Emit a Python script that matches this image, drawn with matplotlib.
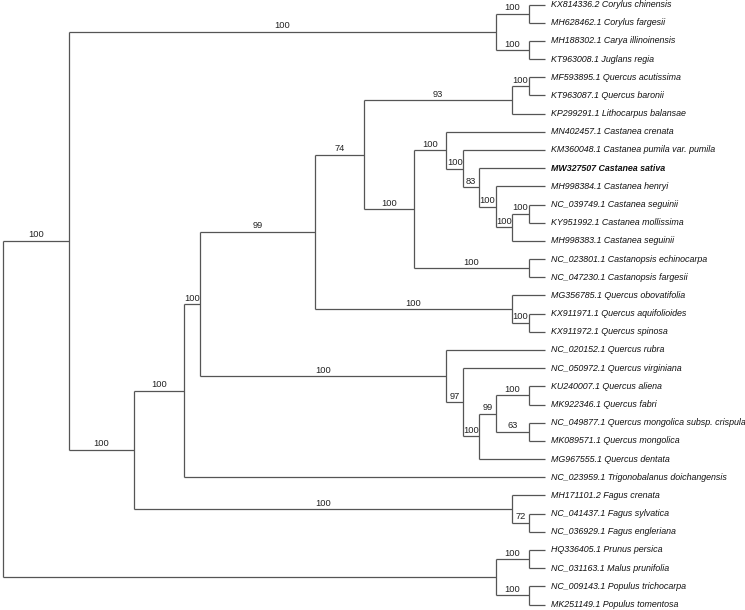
import matplotlib.pyplot as plt

# tip order top to bottom: accession + species name
accessions = ["KX814336.2", "MH628462.1", "MH188302.1", "KT963008.1",
              "MF593895.1", "KT963087.1", "KP299291.1", "MN402457.1",
              "KM360048.1", "MW327507", "MH998384.1", "NC_039749.1",
              "KY951992.1", "MH998383.1", "NC_023801.1", "NC_047230.1",
              "MG356785.1", "KX911971.1", "KX911972.1", "NC_020152.1",
              "NC_050972.1", "KU240007.1", "MK922346.1", "NC_049877.1",
              "MK089571.1", "MG967555.1", "NC_023959.1", "MH171101.2",
              "NC_041437.1", "NC_036929.1", "HQ336405.1", "NC_031163.1",
              "NC_009143.1", "MK251149.1"]
species = ["Corylus chinensis", "Corylus fargesii", "Carya illinoinensis",
           "Juglans regia", "Quercus acutissima", "Quercus baronii",
           "Lithocarpus balansae", "Castanea crenata",
           "Castanea pumila var. pumila", "Castanea sativa", "Castanea henryi",
           "Castanea seguinii", "Castanea mollissima", "Castanea seguinii",
           "Castanopsis echinocarpa", "Castanopsis fargesii",
           "Quercus obovatifolia", "Quercus aquifolioides", "Quercus spinosa",
           "Quercus rubra", "Quercus virginiana", "Quercus aliena",
           "Quercus fabri", "Quercus mongolica subsp. crispula",
           "Quercus mongolica", "Quercus dentata",
           "Trigonobalanus doichangensis", "Fagus crenata", "Fagus sylvatica",
           "Fagus engleriana", "Prunus persica", "Malus prunifolia",
           "Populus trichocarpa", "Populus tomentosa"]
highlight = "MW327507"

# internal nodes: name, children, level (steps back from the tips), bootstrap
nodes = [
    ("cor", ["KX814336.2", "MH628462.1"], 1, 100),
    ("jug", ["MH188302.1", "KT963008.1"], 1, 100),
    ("J", ["cor", "jug"], 3, 100),
    ("qac", ["MF593895.1", "KT963087.1"], 1, 100),
    ("F5", ["qac", "KP299291.1"], 2, 93),
    ("C6", ["NC_039749.1", "KY951992.1"], 1, 100),
    ("C5", ["C6", "MH998383.1"], 2, 100),
    ("C4", ["MH998384.1", "C5"], 3, 100),
    ("C3", ["MW327507", "C4"], 4, 83),
    ("C2", ["KM360048.1", "C3"], 5, 100),
    ("C1", ["MN402457.1", "C2"], 6, 100),
    ("cps", ["NC_023801.1", "NC_047230.1"], 1, 100),
    ("F6", ["C1", "cps"], 8, 100),
    ("F4", ["F5", "F6"], 11, 74),
    ("qaq", ["KX911971.1", "KX911972.1"], 1, 100),
    ("Qo", ["MG356785.1", "qaq"], 2, 100),
    ("F3", ["F4", "Qo"], 14, 99),
    ("qal", ["KU240007.1", "MK922346.1"], 1, 100),
    ("qmo", ["NC_049877.1", "MK089571.1"], 1, 63),
    ("QN4", ["qal", "qmo"], 3, 99),
    ("QN3", ["QN4", "MG967555.1"], 4, 100),
    ("QN2", ["NC_050972.1", "QN3"], 5, 97),
    ("QN", ["NC_020152.1", "QN2"], 6, 100),
    ("F2", ["F3", "QN"], 21, 100),
    ("F1", ["F2", "NC_023959.1"], 22, 100),
    ("fsy", ["NC_041437.1", "NC_036929.1"], 1, 72),
    ("Fag", ["MH171101.2", "fsy"], 2, 100),
    ("F", ["F1", "Fag"], 25, 100),
    ("A", ["J", "F"], 29, 100),
    ("pru", ["HQ336405.1", "NC_031163.1"], 1, 100),
    ("pop", ["NC_009143.1", "MK251149.1"], 1, 100),
    ("out", ["pru", "pop"], 3, None),
    ("root", ["A", "out"], 33, None),
]

line_col = "#555555"

fig = plt.figure(figsize=(7.45, 6.10), dpi=100)
ax = fig.add_axes([0, 0, 1, 1])
ax.set_xlim(33.17, -12.17)
ax.set_ylim(33.3, -0.25)
ax.axis("off")

xpos = {}
ypos = {}
for i, acc in enumerate(accessions):
    xpos[acc] = 0
    ypos[acc] = i

for name, kids, level, boot in nodes:
    xpos[name] = level
    ypos[name] = sum(ypos[k] for k in kids) / len(kids)
    ys = [ypos[k] for k in kids]
    ax.plot([level, level], [min(ys), max(ys)], color=line_col, lw=0.9,
            solid_capstyle="butt")
    for k in kids:
        ax.plot([level, xpos[k]], [ypos[k], ypos[k]], color=line_col, lw=0.9,
                solid_capstyle="butt")

# bootstrap values above the branch leading to each node
for name, kids, level, boot in nodes:
    for k in kids:
        b = next((n[3] for n in nodes if n[0] == k), None)
        if b is None:
            continue
        ax.annotate(str(b), ((level + xpos[k]) / 2, ypos[k]),
                    xytext=(0, 1.0), textcoords="offset points",
                    ha="center", va="bottom", fontsize=6.7,
                    family="Liberation Sans", color="#222222")

for i, (acc, sp) in enumerate(zip(accessions, species)):
    ax.text(-0.38, i, acc + " " + sp, ha="left", va="center",
            fontsize=6.4, style="italic", family="Liberation Sans",
            fontweight="bold" if acc == highlight else "normal",
            color="#111111")

fig.savefig("out.png", dpi=100)
